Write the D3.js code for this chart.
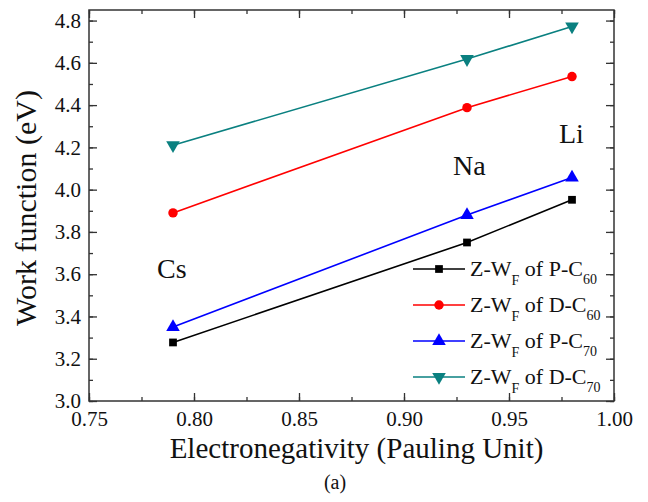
<!DOCTYPE html>
<html>
<head>
<meta charset="utf-8">
<script src="https://cdn.jsdelivr.net/npm/d3@7"></script>
<style>
  body { margin: 0; background: #fff; }
</style>
</head>
<body>
<div id="container"></div>
<script>
// electronegativity of Cs, Na, Li
const electroneg = [0.79, 0.93, 0.98];
const pC60 = [3.277, 3.75, 3.952];
const dC60 = [3.89, 4.388, 4.535];
const pC70 = [3.35, 3.88, 4.057];
const dC70 = [4.21, 4.618, 4.772];
const seriesNames = ["P-C", "D-C", "P-C", "D-C"];
const seriesSubs = ["60", "60", "70", "70"];
const xTicks = [0.75, 0.80, 0.85, 0.90, 0.95, 1.00];
const yTicks = [3.0, 3.2, 3.4, 3.6, 3.8, 4.0, 4.2, 4.4, 4.6, 4.8];
const elements = ["Cs", "Na", "Li"];
const elementPos = [[0.7824, 3.584], [0.9233, 4.067], [0.9738, 4.223]];

const width = 648, height = 502;
const margin = { left: 89, right: 34, top: 10, bottom: 101 };
const serif = "'Liberation Serif', 'Times New Roman', serif";

const svg = d3.select("#container").append("svg")
    .attr("width", width)
    .attr("height", height)
    .attr("font-family", serif);

const x = d3.scaleLinear().domain([0.75, 1.0]).range([margin.left, width - margin.right]);
const y = d3.scaleLinear().domain([3.0, 4.85]).range([height - margin.bottom, margin.top]);

const colors = ["#000000", "#ff0000", "#0000ff", "#0a8080"];
const symbols = [d3.symbolSquare, d3.symbolCircle, d3.symbolTriangle, d3.symbolTriangle];
const symSizes = [60, 70, 80, 80];
const flips = [false, false, false, true];
const allSeries = [pC60, dC60, pC70, dC70];

// axes (ticks inward on all four sides)
const minorX = d3.range(0.75, 1.0001, 0.025);
const minorY = d3.range(3.0, 4.85, 0.1);
const fmt = d3.format(".2f");

function clean(g) {
    g.attr("font-family", serif);
    g.select(".domain").remove();
    g.selectAll("text").attr("font-size", 21).attr("fill", "#111").attr("font-family", serif);
}

svg.append("g")
    .attr("transform", `translate(0,${y(3.0)})`)
    .call(d3.axisBottom(x).tickValues(minorX).tickSize(-4).tickFormat(""))
    .call(clean);
svg.append("g")
    .attr("transform", `translate(0,${y(3.0)})`)
    .call(d3.axisBottom(x).tickValues(xTicks).tickSize(-8).tickPadding(10).tickFormat(fmt))
    .call(clean);

svg.append("g")
    .attr("transform", `translate(0,${margin.top})`)
    .call(d3.axisTop(x).tickValues(minorX).tickSize(-4).tickFormat(""))
    .call(clean);
svg.append("g")
    .attr("transform", `translate(0,${margin.top})`)
    .call(d3.axisTop(x).tickValues(xTicks).tickSize(-8).tickFormat(""))
    .call(clean);

svg.append("g")
    .attr("transform", `translate(${margin.left},0)`)
    .call(d3.axisLeft(y).tickValues(minorY).tickSize(-4).tickFormat(""))
    .call(clean);
svg.append("g")
    .attr("transform", `translate(${margin.left},0)`)
    .call(d3.axisLeft(y).tickValues(yTicks).tickSize(-8).tickPadding(8).tickFormat(d3.format(".1f")))
    .call(clean);

svg.append("g")
    .attr("transform", `translate(${width - margin.right},0)`)
    .call(d3.axisRight(y).tickValues(minorY).tickSize(-4).tickFormat(""))
    .call(clean);
svg.append("g")
    .attr("transform", `translate(${width - margin.right},0)`)
    .call(d3.axisRight(y).tickValues(yTicks).tickSize(-8).tickFormat(""))
    .call(clean);

svg.selectAll(".tick line").attr("stroke", "#333").attr("stroke-width", 1.3);

// frame
svg.append("rect")
    .attr("x", margin.left).attr("y", margin.top)
    .attr("width", x(1.0) - x(0.75)).attr("height", y(3.0) - y(4.85))
    .attr("fill", "none").attr("stroke", "#333").attr("stroke-width", 1.5);

// lines + markers
const line = d3.line().x(d => x(d[0])).y(d => y(d[1]));
allSeries.forEach((vals, i) => {
    const pts = electroneg.map((e, j) => [e, vals[j]]);
    svg.append("path")
        .datum(pts)
        .attr("d", line)
        .attr("fill", "none")
        .attr("stroke", colors[i])
        .attr("stroke-width", 1.6);
    svg.selectAll(null)
        .data(pts)
        .enter().append("path")
        .attr("d", d3.symbol().type(symbols[i]).size(symSizes[i]))
        .attr("transform", d => `translate(${x(d[0])},${y(d[1])})${flips[i] ? " rotate(180)" : ""}`)
        .attr("fill", colors[i]);
});

// element labels
elements.forEach((el, i) => {
    svg.append("text")
        .attr("x", x(elementPos[i][0]))
        .attr("y", y(elementPos[i][1]))
        .attr("font-size", 28)
        .attr("fill", "#111")
        .text(el);
});

// legend
const legX = 413, legY = 269, legStep = 36;
seriesNames.forEach((name, i) => {
    const ly = legY + i * legStep;
    svg.append("line")
        .attr("x1", legX).attr("x2", legX + 52)
        .attr("y1", ly).attr("y2", ly)
        .attr("stroke", colors[i]).attr("stroke-width", 1.6);
    svg.append("path")
        .attr("d", d3.symbol().type(symbols[i]).size(symSizes[i]))
        .attr("transform", `translate(${legX + 26},${ly})${flips[i] ? " rotate(180)" : ""}`)
        .attr("fill", colors[i]);
    const t = svg.append("text")
        .attr("x", legX + 57)
        .attr("y", ly + 7)
        .attr("font-size", 22)
        .attr("fill", "#111");
    t.append("tspan").text("Z-W");
    t.append("tspan").attr("font-size", 14).attr("dy", 9).text("F");
    t.append("tspan").attr("dy", -9).text(" of " + name);
    t.append("tspan").attr("font-size", 14).attr("dy", 8).text(seriesSubs[i]);
});

// axis titles
svg.append("text")
    .attr("x", (x(0.75) + x(1.0)) / 2 + 5)
    .attr("y", 458)
    .attr("text-anchor", "middle")
    .attr("font-size", 29)
    .attr("fill", "#111")
    .text("Electronegativity (Pauling Unit)");

svg.append("text")
    .attr("transform", `translate(36,208) rotate(-90)`)
    .attr("text-anchor", "middle")
    .attr("font-size", 30)
    .attr("fill", "#111")
    .text("Work function (eV)");

svg.append("text")
    .attr("x", 335)
    .attr("y", 489)
    .attr("text-anchor", "middle")
    .attr("font-size", 20)
    .attr("fill", "#111")
    .text("(a)");
</script>
</body>
</html>
